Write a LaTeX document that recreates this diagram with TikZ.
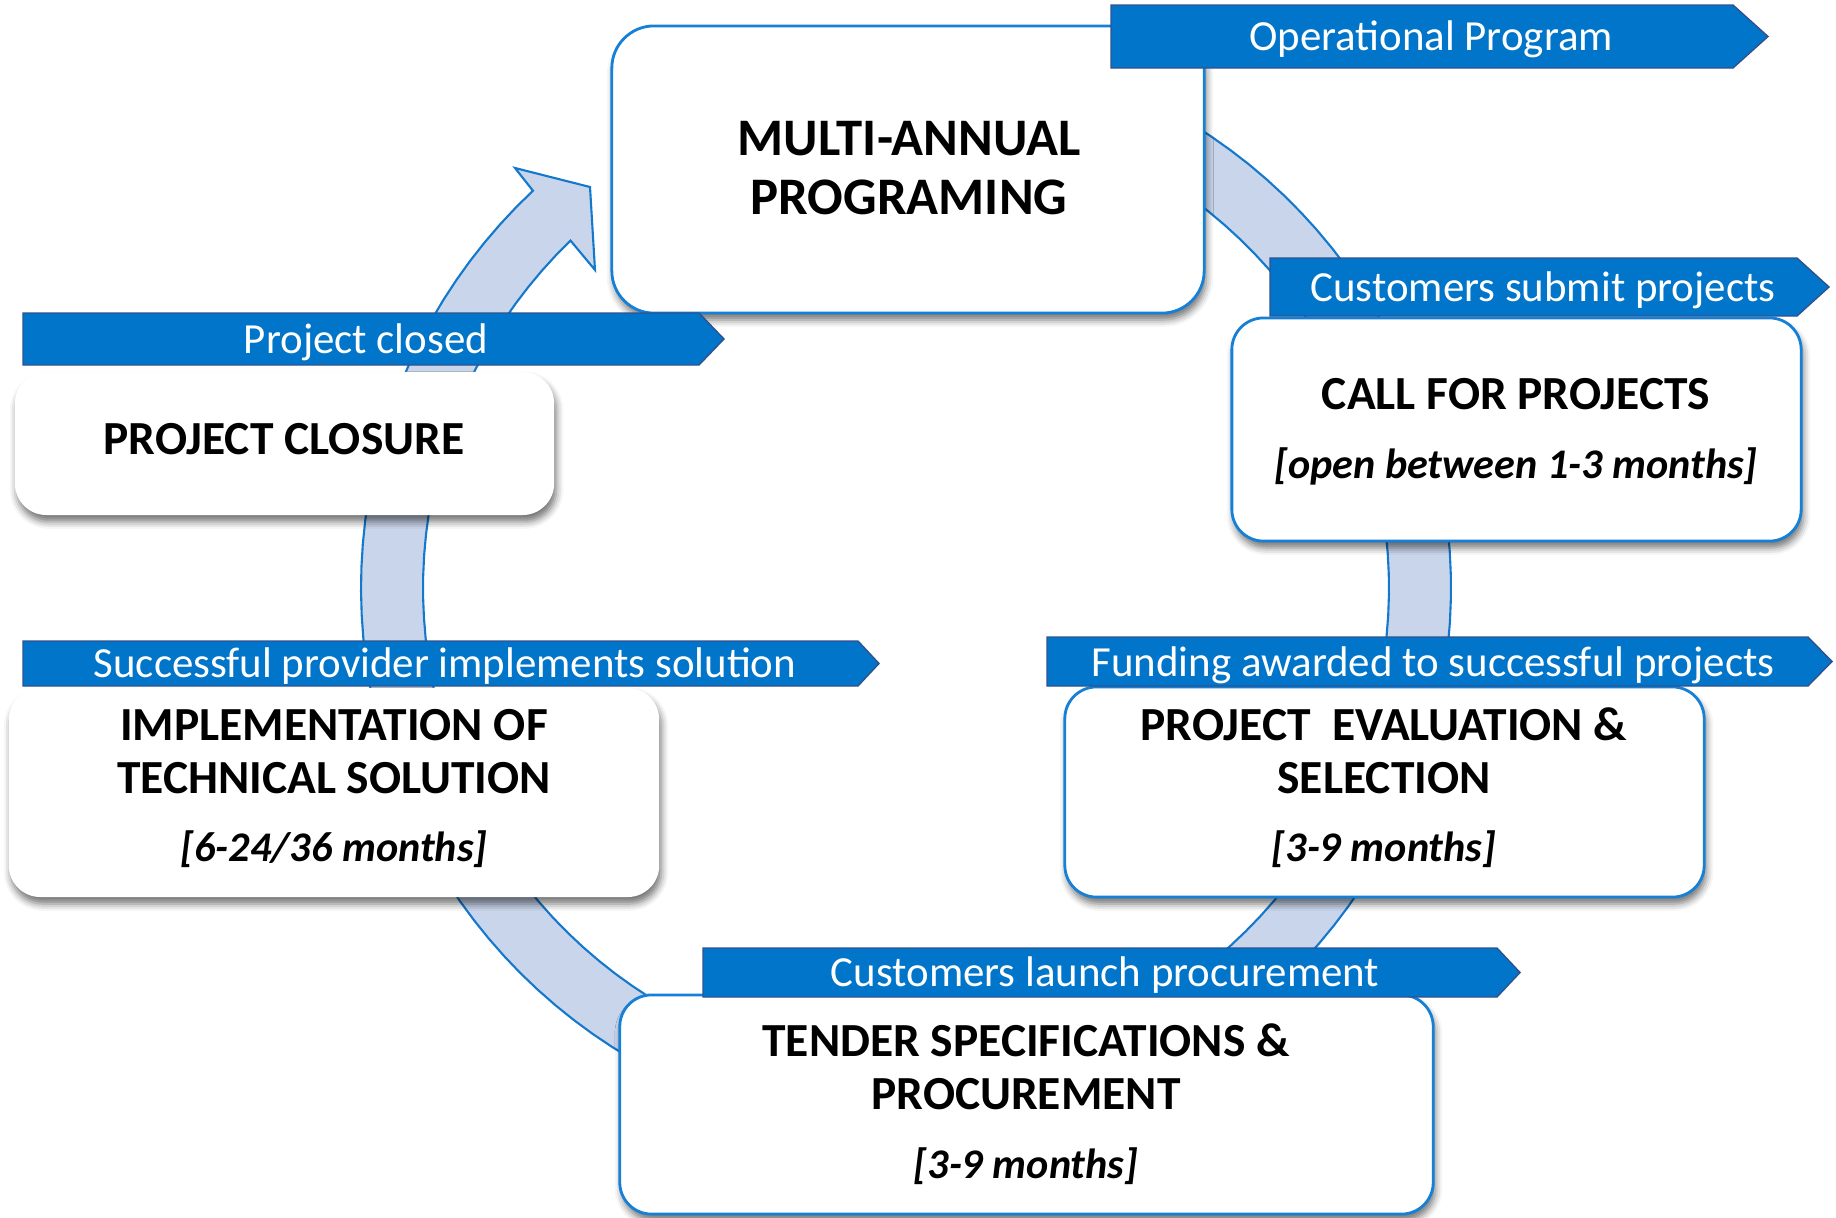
\documentclass[tikz,border=0pt]{standalone}
\usepackage{fontspec}
\setmainfont{Carlito}
\usetikzlibrary{shadows,shadows.blur}
\definecolor{ribbonblue}{RGB}{0,117,201}
\definecolor{ribbonedge}{RGB}{47,82,143}
\definecolor{boxblue}{RGB}{22,128,214}
\definecolor{bandfill}{RGB}{201,213,235}
\definecolor{bandedge}{RGB}{20,120,205}
\begin{document}
\begin{tikzpicture}[x=0.01cm,y=-0.01cm,
  stagebox/.style={fill=white, rounded corners=9pt, inner sep=0pt,
    blur shadow={shadow xshift=0.6pt, shadow yshift=-1.9pt, shadow blur radius=2pt, shadow opacity=55}},
  bluebox/.style={stagebox, draw=boxblue, line width=0.8pt},
  plainbox/.style={stagebox, draw=none},
  titletext/.style={font=\fontsize{13.5pt}{16pt}\bfseries, inner sep=0pt, text height=8.5pt, text depth=0pt},
  bigtitle/.style={font=\fontsize{15pt}{18pt}\bfseries, inner sep=0pt, text height=9.5pt, text depth=0pt},
  durtext/.style={font=\fontsize{12pt}{14pt}\bfseries\itshape, inner sep=0pt, text height=7.6pt, text depth=0pt},
  ribbon/.style={fill=ribbonblue, draw=ribbonedge, line width=0.4pt},
  ribbontext/.style={font=\fontsize{12.2pt}{14pt}\selectfont, text=white, inner sep=0pt, text height=7.7pt, text depth=0pt},
  band/.style={fill=bandfill, draw=bandedge, line width=0.6pt, line join=miter}
]
\useasboundingbox (0,0) rectangle (1836,1218);

% circular arrow band
\path[band] plot[domain=242:586.8,samples=140] ({906+545*cos(\x)},{588+545*sin(\x)})
  -- (515,168) -- (590,187) -- (595,270)
  -- plot[domain=586:242,samples=140] ({906+483*cos(\x)},{588+483*sin(\x)}) -- cycle;

% stage boxes
\node[bluebox, rounded corners=12pt, minimum width=5.92cm, minimum height=2.87cm] (ma) at (908,169.5) {};
\node[plainbox, minimum width=5.39cm, minimum height=1.43cm] (closure) at (284.5,443.5) {};
\node[bluebox, minimum width=5.69cm, minimum height=2.23cm] (call) at (1516.5,429.5) {};
\node[bluebox, minimum width=6.39cm, minimum height=2.10cm] (eval) at (1384.5,792) {};
\node[plainbox, minimum width=6.50cm, minimum height=2.09cm] (impl) at (334,792.5) {};
\node[bluebox, minimum width=8.13cm, minimum height=2.19cm] (tender) at (1026.5,1104.5) {};

% box texts
\node[bigtitle] (ma1) at (909,139) {MULTI-ANNUAL};
\node[bigtitle] (ma2) at (909,198) {PROGRAMING};
\node[titletext] (cl1) at (284,440) {PROJECT CLOSURE};
\node[titletext] (ca1) at (1516,395) {CALL FOR PROJECTS};
\node[durtext] (ca2) at (1516,465) {[open between 1-3 months]};
\node[titletext] (ev1) at (1384,726) {PROJECT\ \ EVALUATION \&};
\node[titletext] (ev2) at (1384,779) {SELECTION};
\node[durtext] (ev3) at (1384,848) {[3-9 months]};
\node[titletext] (im1) at (334,726) {IMPLEMENTATION OF};
\node[titletext] (im2) at (334,779) {TECHNICAL SOLUTION};
\node[durtext] (im3) at (334,848) {[6-24/36 months]};
\node[titletext] (te1) at (1026,1042) {TENDER SPECIFICATIONS \&};
\node[titletext] (te2) at (1026,1095) {PROCUREMENT};
\node[durtext] (te3) at (1026,1165) {[3-9 months]};

% ribbons
\path[ribbon] (1111,5) -- (1733,5) -- (1768,36.5) -- (1733,68) -- (1111,68) -- cycle;
\node[ribbontext] (r1) at (1431,37) {Operational Program};
\path[ribbon] (1270,258) -- (1797,258) -- (1829,287) -- (1797,316) -- (1270,316) -- cycle;
\node[ribbontext] (r2) at (1543,288) {Customers submit projects};
\path[ribbon] (23,313) -- (699,313) -- (724,339) -- (699,365) -- (23,365) -- cycle;
\node[ribbontext] (r3) at (366,340) {Project closed};
\path[ribbon] (23,641) -- (858,641) -- (879,663.5) -- (858,686) -- (23,686) -- cycle;
\node[ribbontext] (r4) at (445,664) {Successful provider implements solution};
\path[ribbon] (1047,637) -- (1808,637) -- (1832,661.5) -- (1808,686) -- (1047,686) -- cycle;
\node[ribbontext] (r5) at (1433,663) {Funding awarded to successful projects};
\path[ribbon] (703,948) -- (1497,948) -- (1520,972.5) -- (1497,997) -- (703,997) -- cycle;
\node[ribbontext] (r6) at (1105,973) {Customers launch procurement};
\end{tikzpicture}
\end{document}
